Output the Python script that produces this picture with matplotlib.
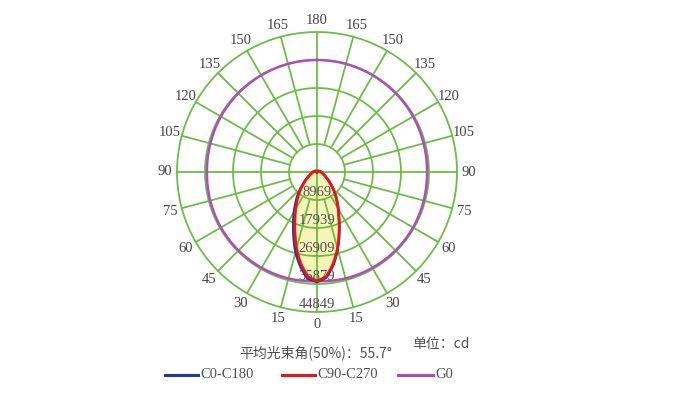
"""Polar light distribution curve (C0-C180 / C90-C270 / G0)."""

import matplotlib

matplotlib.use("Agg")

import numpy as np
import matplotlib.pyplot as plt
from matplotlib.lines import Line2D

GREEN = "#6CBD45"
BLUE = "#1F3A9C"
RED = "#E8161B"
PURPLE = "#B04CBA"
FILL = "#F7F4B8"
TEXT = "#505050"

SERIF = ["Liberation Serif", "Noto Sans CJK SC", "DejaVu Sans"]
CJK = ["Noto Sans CJK SC", "Liberation Serif", "DejaVu Sans"]

# ring values (cd)
RINGS = [8969, 17939, 26909, 35879, 44849]
RING_LABELS = ["8969", "17939", "26909", "35879", "44849"]

# gamma angles (deg) from nadir for one half of each plane
GAMMA = [0, 5, 10, 15, 20, 25, 30, 35, 40, 45, 50, 55, 60, 65, 70, 75, 80, 85, 90,
         105, 120, 150, 180]

# C90-C270 (symmetric)
C90_C270 = [34920, 33640, 29790, 25310, 20660, 16660, 13610, 11050, 8970, 7050,
            5450, 4320, 3360, 2720, 2240, 1920, 1600, 1440, 1280, 960, 640, 320, 0]
# C0-C180: C0 on the right side, C180 on the left
C0 = [35080, 33960, 30270, 25630, 20820, 16660, 13610, 11050, 8970, 7050,
      5450, 4320, 3360, 2720, 2240, 1920, 1600, 1440, 1280, 960, 640, 320, 0]
C180 = [35240, 34280, 30750, 26590, 21940, 17940, 14730, 11900, 9610, 7530,
        5770, 4480, 3360, 2720, 2240, 1920, 1600, 1440, 1280, 960, 640, 320, 0]

# G0 curve, every 15 deg from nadir
G0_ANGLES = [0, 15, 30, 45, 60, 75, 90, 105, 120, 135, 150, 165, 180]
G0_VALUES = [34950, 35300, 35450, 35550, 35550, 35400, 35250, 35350, 35550, 35650,
             35750, 35850, 35880]

ANGLE_LABELS = list(range(0, 181, 15))
LEGEND_LABELS = ["C0-C180", "C90-C270", "G0"]
BEAM_TEXT = "平均光束角(50%)：55.7°"
UNIT_TEXT = "单位：cd"


def full_curve(angles, right, left):
    """Join the two halves of a plane into one closed polar curve."""
    ang = np.radians(angles)
    theta = np.concatenate([-ang[::-1], ang[1:]])
    r = np.concatenate([np.array(left)[::-1], np.array(right)[1:]])
    return theta, r


def smooth(artist, steps=12):
    # let the polar transform bend the segments instead of drawing chords
    artist.get_path()._interpolation_steps = steps


def main():
    fig = plt.figure(figsize=(6.86, 3.94), dpi=100)
    fig.patch.set_facecolor("white")

    rmax = RINGS[-1]
    ax = fig.add_axes([177 / 686, 82 / 394, 280 / 686, 280 / 394], projection="polar")
    ax.set_theta_zero_location("S")
    ax.set_theta_direction(1)
    ax.set_ylim(0, rmax)
    ax.grid(False)
    ax.set_xticks([])
    ax.set_yticks([])
    ax.spines["polar"].set_visible(False)
    ax.set_facecolor("white")

    full = np.linspace(-np.pi, np.pi, 721)

    # filled lobe
    t_red, r_red = full_curve(GAMMA, C90_C270, C90_C270)
    t_blue, r_blue = full_curve(GAMMA, C0, C180)
    for poly in ax.fill(t_blue, r_blue, color=FILL, zorder=1, lw=0):
        smooth(poly)
    for poly in ax.fill(t_red, r_red, color=FILL, zorder=1, lw=0):
        smooth(poly)

    # grid rings
    for ring in RINGS:
        ax.plot(full, np.full_like(full, ring), color=GREEN, lw=1.3, zorder=2,
                clip_on=False)

    # radial spokes
    for deg in range(-165, 181, 15):
        th = np.radians(deg)
        start = 0 if deg % 90 == 0 else RINGS[0]
        ax.plot([th, th], [start, rmax], color=GREEN, lw=1.3, zorder=2,
                clip_on=False)

    # ring value labels along the nadir
    for ring, lab in zip(RINGS, RING_LABELS):
        ax.text(0, ring - 2300, lab, ha="center", va="center", fontsize=10.5,
                color=TEXT, family=SERIF, zorder=3, clip_on=False)

    # angle labels round the outside
    lab_r = rmax * 152 / 140
    for deg in ANGLE_LABELS:
        sides = [deg] if deg in (0, 180) else [deg, -deg]
        for d in sides:
            ax.text(np.radians(d), lab_r, str(deg), ha="center", va="center",
                    fontsize=10.5, color="#444444", family=SERIF, clip_on=False)

    g_ang = np.radians(G0_ANGLES)
    g_theta = np.concatenate([-g_ang[::-1], g_ang[1:]])
    g_r = np.concatenate([np.array(G0_VALUES)[::-1], np.array(G0_VALUES)[1:]])
    g0_line, = ax.plot(g_theta, g_r, color=PURPLE, lw=1.8, zorder=4)
    blue_line, = ax.plot(t_blue, r_blue, color=BLUE, lw=1.8, zorder=5)
    red_line, = ax.plot(t_red, r_red, color=RED, lw=2.0, zorder=6)
    for line in (g0_line, blue_line, red_line):
        smooth(line)

    fig.text(316 / 686, 1 - 353 / 394, BEAM_TEXT, ha="center", va="center",
             fontsize=10, color=TEXT, family=CJK)
    fig.text(441 / 686, 1 - 344 / 394, UNIT_TEXT, ha="center", va="center",
             fontsize=10, color=TEXT, family=CJK)

    # legend row drawn by hand so each entry sits where the original has it
    y_leg = 1 - 375 / 394
    entries = [(165, 198, BLUE), (282, 315, RED), (398, 433, PURPLE)]
    for (x0, x1, color), label in zip(entries, LEGEND_LABELS):
        fig.add_artist(Line2D([x0 / 686, x1 / 686], [y_leg, y_leg], color=color,
                              lw=2.2, transform=fig.transFigure))
        fig.text((x1 + 2.5) / 686, y_leg, label, ha="left", va="center",
                 fontsize=10.5, color=TEXT, family=SERIF)

    fig.savefig("out.png", dpi=100, facecolor="white")
    plt.close(fig)


if __name__ == "__main__":
    main()
